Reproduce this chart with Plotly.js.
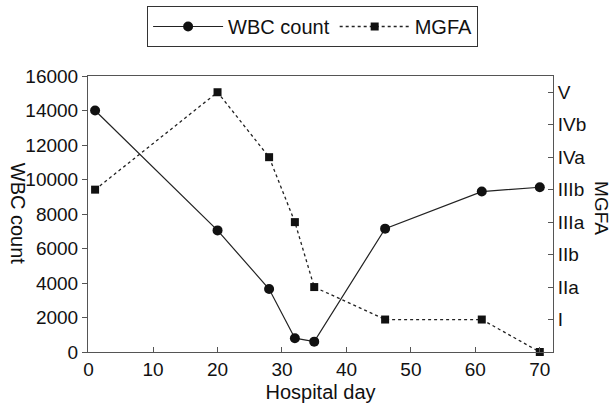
<!DOCTYPE html>
<html>
<head>
<meta charset="utf-8">
<script src="https://cdn.plot.ly/plotly-3.0.1.min.js"></script>
<style>html,body{margin:0;padding:0;background:#fff}#chart{width:615px;height:416px}</style>
</head>
<body>
<div id="chart"></div>
<script>
var days = [1, 20, 28, 32, 35, 46, 61, 70];
var wbcCount = [14000, 7050, 3650, 800, 600, 7150, 9300, 9550];
var mgfaScore = [5, 8, 6, 4, 2, 1, 1, 0];
var mgfaTickVals = [1, 2, 3, 4, 5, 6, 7, 8];
var mgfaTickText = ['I', 'IIa', 'IIb', 'IIIa', 'IIIb', 'IVa', 'IVb', 'V'];
var xTicks = [0, 10, 20, 30, 40, 50, 60, 70];
var wbcTicks = [0, 2000, 4000, 6000, 8000, 10000, 12000, 14000, 16000];

var font = 'Liberation Sans, Arial, sans-serif';
var ink = '#222';
var axisCol = '#555';

var traces = [
  {x: days, y: wbcCount, name: 'WBC count', type: 'scatter', mode: 'lines+markers',
   line: {color: ink, width: 1.2}, marker: {symbol: 'circle', size: 10, color: '#111'},
   cliponaxis: false, yaxis: 'y'},
  {x: days, y: mgfaScore, name: 'MGFA', type: 'scatter', mode: 'lines+markers',
   line: {color: ink, width: 1.3, dash: 'dot'}, marker: {symbol: 'square', size: 8, color: '#111'},
   cliponaxis: false, yaxis: 'y2'}
];

var layout = {
  width: 615, height: 416,
  margin: {l: 88, r: 62, t: 76, b: 64, autoexpand: false},
  paper_bgcolor: '#fff', plot_bgcolor: '#fff',
  font: {family: font, color: '#111', size: 18},
  showlegend: true,
  legend: {orientation: 'h', x: 0.483, xanchor: 'center', y: 1.2536, yanchor: 'top',
           bordercolor: '#333', borderwidth: 1, font: {size: 20, family: font},
           itemwidth: 70, bgcolor: '#fff', tracegroupgap: 0},
  xaxis: {range: [-0.1, 72.05], tickvals: xTicks, ticks: 'inside', ticklen: 5, tickcolor: axisCol,
          showline: true, linecolor: axisCol, linewidth: 1, mirror: true, showgrid: false, zeroline: false,
          tickfont: {size: 19}, title: {text: 'Hospital day', font: {size: 20}, standoff: 6}},
  yaxis: {range: [0, 16000], tickvals: wbcTicks, tickformat: 'd', ticks: 'outside', ticklen: 5, tickcolor: axisCol,
          showline: true, linecolor: axisCol, linewidth: 1, showgrid: false, zeroline: false,
          tickfont: {size: 19}},
  yaxis2: {range: [0, 8.5], overlaying: 'y', side: 'right', tickvals: mgfaTickVals, ticktext: mgfaTickText,
           ticks: 'inside', ticklen: 5, tickcolor: axisCol, showline: true, linecolor: axisCol, linewidth: 1,
           showgrid: false, zeroline: false, tickfont: {size: 19}},
  annotations: [
    {text: 'WBC count', xref: 'paper', yref: 'paper', x: -0.15, y: 0.5, textangle: 90,
     showarrow: false, font: {size: 20}, xanchor: 'center', yanchor: 'middle'},
    {text: 'MGFA', xref: 'paper', yref: 'paper', x: 1.104, y: 0.52, textangle: 90,
     showarrow: false, font: {size: 19}, xanchor: 'center', yanchor: 'middle'}
  ]
};

Plotly.newPlot('chart', traces, layout, {displayModeBar: false, staticPlot: true});
</script>
</body>
</html>
